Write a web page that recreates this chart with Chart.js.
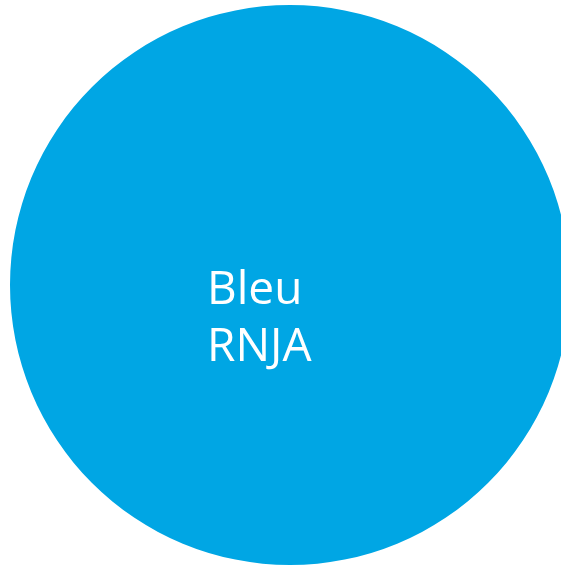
<!DOCTYPE html>
<html>
<head>
<meta charset="utf-8">
<script src="https://cdn.jsdelivr.net/npm/chart.js@4"></script>
<style>
    html, body { margin: 0; padding: 0; background: #fff; overflow: hidden; }
    body { width: 561px; height: 566px; position: relative; }
    #wrap { position: absolute; left: 10px; top: 5px; width: 560px; height: 560px; }
</style>
</head>
<body>
<div id="wrap"><canvas id="pie-chart"></canvas></div>
<script>
// one slice only
const categories = [['Bleu', 'RNJA']];
const values = [100];
const sliceColors = ['#00A6E4'];

// draws the category label inside the slice, left aligned like the original
const sliceLabels = {
    id: 'sliceLabels',
    afterDatasetsDraw(chart) {
        const ctx = chart.ctx;
        const arc = chart.getDatasetMeta(0).data[0];
        if (!arc) return;
        const lines = chart.data.labels[0];
        ctx.save();
        ctx.fillStyle = '#ffffff';
        ctx.font = '46px "Open Sans", sans-serif';
        ctx.textAlign = 'left';
        ctx.textBaseline = 'alphabetic';
        lines.forEach((line, i) => {
            ctx.fillText(line, arc.x - 83, arc.y + 19 + i * 57);
        });
        ctx.restore();
    }
};

new Chart(document.getElementById('pie-chart'), {
    type: 'pie',
    data: {
        labels: categories,
        datasets: [{
            data: values,
            backgroundColor: sliceColors,
            borderWidth: 0
        }]
    },
    options: {
        responsive: true,
        maintainAspectRatio: false,
        animation: false,
        layout: { padding: 0 },
        plugins: {
            legend: { display: false },
            tooltip: { enabled: false }
        }
    },
    plugins: [sliceLabels]
});
</script>
</body>
</html>
